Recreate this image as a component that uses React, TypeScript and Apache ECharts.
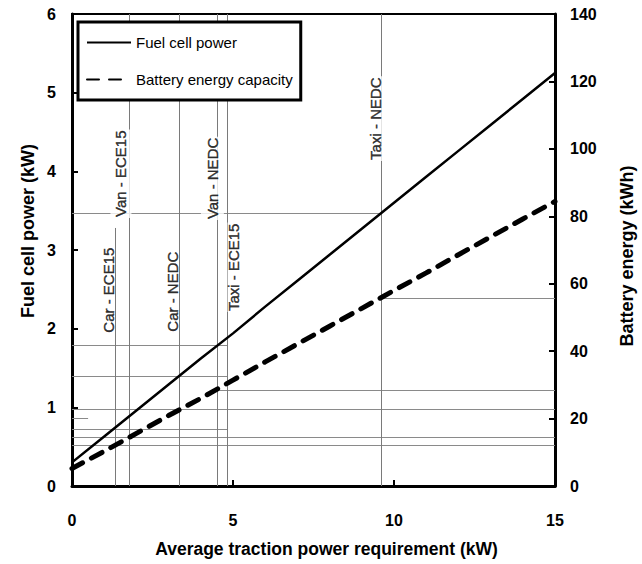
import React, { useEffect, useRef } from "react";
import * as echarts from "echarts";

// Average traction power requirement (kW)
const powerKW = [0, 1, 2, 3, 4, 5, 6, 7, 8, 9, 10, 11, 12, 13, 14, 15];
// Fuel cell power (kW)
const fuelCellKW = [0.3, 0.63, 0.96, 1.29, 1.62, 1.94, 2.28, 2.61, 2.94, 3.27, 3.6, 3.93, 4.26, 4.59, 4.92, 5.25];
// Battery energy capacity (kWh)
const batteryKWh = [5.2, 10.3, 15.6, 20.9, 26.0, 31.4, 36.8, 42.1, 47.4, 52.7, 58.0, 63.2, 68.6, 73.9, 79.2, 84.4];

// Driving cycles
const cycleNames = ["Car - ECE15", "Van - ECE15", "Car - NEDC", "Van - NEDC", "Taxi - ECE15", "Taxi - NEDC"];
const cyclePowerKW = [1.33, 1.77, 3.33, 4.51, 4.82, 9.61];
const cycleLineTopKW = [3.28, 6, 6, 6, 6, 6];
const cycleLabelX = [1.12, 1.52, 3.12, 4.36, 5.03, 9.43];
const cycleLabelY = [2.49, 3.97, 2.47, 3.91, 2.78, 4.67];

// Guide lines read at the intersections
const fcGuideKW = [3.47, 1.79, 1.4, 0.86, 0.72];
const fcGuideFrom = [0, 0, 0, 0, 0];
const fcGuideTo = [9.61, 4.82, 4.82, 0.5, 4.82];
const batGuideKWh = [55.7, 28.4, 22.7, 14.4, 12.0];
const batGuideFrom = [9.61, 4.51, 0, 0, 0];
const batGuideTo = [15, 15, 15, 15, 15];

const xTicks = { min: 0, max: 15, interval: 5 };
const yLeftTicks = { min: 0, max: 6, interval: 1 };
const yRightTicks = { min: 0, max: 140, interval: 20 };

const xTitle = "Average traction power requirement (kW)";
const yLeftTitle = "Fuel cell power (kW)";
const yRightTitle = "Battery energy (kWh)";

const FONT = '"Liberation Sans", Arial, Helvetica, sans-serif';

export default function App() {
  const ref = useRef<HTMLDivElement>(null);
  useEffect(() => {
    if (!ref.current) return;
    const chart = echarts.init(ref.current, undefined, { renderer: "svg" });
    const axisCommon = {
      axisLine: { show: true, onZero: false, lineStyle: { color: "#000", width: 3 } },
      axisTick: { show: true, inside: true, length: 6, lineStyle: { color: "#000", width: 2 } },
      splitLine: { show: false },
      nameLocation: "middle" as const,
    };
    const nameStyle = { fontWeight: "bold", color: "#000", fontFamily: FONT };
    const tickLabel = { fontSize: 16, fontWeight: "bold", color: "#000", fontFamily: FONT };
    // label background paddings (text frame: top = screen left)
    const labelPads = [
      [1, 1, 0, 1],
      [8, 1, 1, 1],
      [1, 1, 0, 1],
      [10, 1, 1, 1],
      [0, 1, 1, 1],
      [1, 1, 1, 1],
    ];
    const titleFont = `bold 18px ${FONT}`;
    const option: any = {
      animation: false,
      textStyle: { fontFamily: FONT },
      grid: { left: 72, right: 87, top: 14, bottom: 78, show: true, borderColor: "#000", borderWidth: 2 },
      graphic: [
        {
          type: "text",
          x: 28,
          y: 231,
          rotation: Math.PI / 2,
          style: { text: yLeftTitle, font: titleFont, fill: "#000", align: "center", verticalAlign: "middle" },
        },
        {
          type: "text",
          x: 627,
          y: 256,
          rotation: Math.PI / 2,
          style: { text: yRightTitle, font: titleFont, fill: "#000", align: "center", verticalAlign: "middle" },
        },
      ],
      legend: {
        left: 78,
        top: 22,
        orient: "vertical",
        data: ["Fuel cell power", "Battery energy capacity"],
        itemWidth: 44,
        itemHeight: 14,
        itemGap: 22,
        padding: [13, 8, 13, 8],
        borderColor: "#000",
        borderWidth: 3,
        backgroundColor: "#fff",
        z: 10,
        itemStyle: { color: "rgba(0,0,0,0)", borderWidth: 0, opacity: 0 },
        textStyle: { fontSize: 15, color: "#000", fontFamily: FONT },
        selectedMode: false,
      },
      xAxis: {
        type: "value",
        ...xTicks,
        ...axisCommon,
        axisLabel: { ...tickLabel, margin: 26 },
        name: xTitle,
        nameGap: 54,
        nameTextStyle: { ...nameStyle, fontSize: 17.5, padding: [0, 0, 0, 26] },
      },
      yAxis: [
        {
          type: "value",
          position: "left",
          ...yLeftTicks,
          ...axisCommon,
          axisLabel: { ...tickLabel, margin: 16 },
        },
        {
          type: "value",
          position: "right",
          ...yRightTicks,
          ...axisCommon,
          axisLabel: { ...tickLabel, margin: 15 },
        },
      ],
      series: [
        {
          name: "ref-fc",
          type: "line",
          yAxisIndex: 0,
          data: [],
          silent: true,
          markLine: {
            silent: true,
            z: 1,
            symbol: ["none", "none"],
            label: { show: false },
            emphasis: { disabled: true },
            lineStyle: { color: "#8a8a8a", width: 1, type: "solid" },
            data: fcGuideKW.map((y, i) => [
              { coord: [fcGuideFrom[i], y] },
              { coord: [fcGuideTo[i], y] },
            ]),
          },
        },
        {
          name: "ref-bat",
          type: "line",
          yAxisIndex: 1,
          data: [],
          silent: true,
          markLine: {
            silent: true,
            z: 1,
            symbol: ["none", "none"],
            label: { show: false },
            emphasis: { disabled: true },
            lineStyle: { color: "#8a8a8a", width: 1, type: "solid" },
            data: batGuideKWh.map((y, i) => [
              { coord: [batGuideFrom[i], y] },
              { coord: [batGuideTo[i], y] },
            ]),
          },
        },
        {
          name: "ref-cycles",
          type: "line",
          yAxisIndex: 0,
          data: [],
          silent: true,
          markLine: {
            silent: true,
            z: 2,
            symbol: ["none", "none"],
            label: { show: false },
            emphasis: { disabled: true },
            lineStyle: { color: "#7a7a7a", width: 1, type: "solid" },
            data: cyclePowerKW.map((x, i) => [
              { coord: [x, 0] },
              { coord: [x, cycleLineTopKW[i]] },
            ]),
          },
        },
        {
          name: "labels",
          type: "scatter",
          yAxisIndex: 0,
          z: 3,
          silent: true,
          symbolSize: 2,
          itemStyle: { color: "rgba(0,0,0,0)" },
          data: cycleNames.map((n, i) => ({
            name: n,
            value: [cycleLabelX[i], cycleLabelY[i]],
            label: { padding: labelPads[i] },
          })),
          label: {
            show: true,
            position: "inside",
            rotate: 90,
            formatter: "{b}",
            fontSize: 15,
            lineHeight: 12,
            color: "#000",
            textBorderColor: "#000",
            textBorderWidth: 0.4,
            fontFamily: FONT,
            backgroundColor: "#fff",
          },
          labelLayout: { hideOverlap: false },
          emphasis: { disabled: true },
        },
        {
          name: "Fuel cell power",
          type: "line",
          yAxisIndex: 0,
          z: 5,
          symbol: "none",
          silent: true,
          color: "#000",
          lineStyle: { color: "#000", width: 2.5 },
          data: powerKW.map((x, i) => [x, fuelCellKW[i]]),
        },
        {
          name: "Battery energy capacity",
          type: "line",
          yAxisIndex: 1,
          z: 5,
          symbol: "none",
          silent: true,
          color: "#000",
          lineStyle: { color: "#000", width: 5, type: [12, 10], cap: "round" },
          data: powerKW.map((x, i) => [x, batteryKWh[i]]),
        },
      ],
    };
    chart.setOption(option);
    return () => chart.dispose();
  }, []);
  return (
    <div
      ref={ref}
      style={{ position: "fixed", left: 0, top: 0, width: 642, height: 564, background: "#fff" }}
    />
  );
}
